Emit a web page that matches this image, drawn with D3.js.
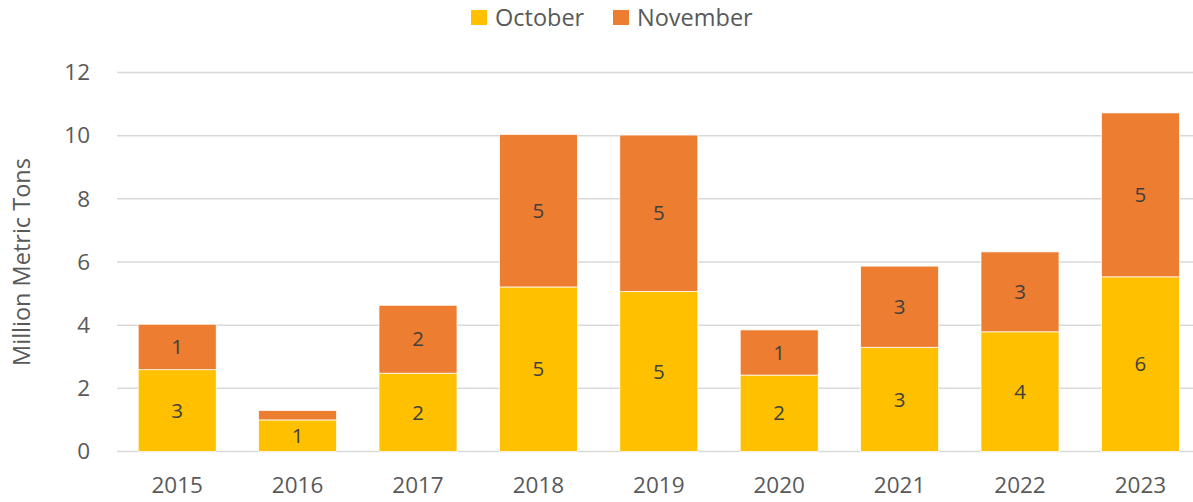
<!DOCTYPE html>
<html>
<head>
<meta charset="utf-8">
<script src="https://cdn.jsdelivr.net/npm/d3@7"></script>
<style>
  body { margin: 0; background: #fff; }
  svg { font-family: "Open Sans", "Liberation Sans", sans-serif; }
</style>
</head>
<body>
<svg width="1193" height="502"></svg>
<script>
// data
const years = ["2015", "2016", "2017", "2018", "2019", "2020", "2021", "2022", "2023"];
const october = [2.59, 1.0, 2.48, 5.21, 5.07, 2.42, 3.30, 3.79, 5.53];
const november = [1.44, 0.30, 2.15, 4.83, 4.95, 1.43, 2.57, 2.53, 5.19];
const seriesNames = ["October", "November"];
const yTicks = [0, 2, 4, 6, 8, 10, 12];

const colors = { October: "#FFC000", November: "#ED7D31" };

const svg = d3.select("svg");
const margin = { top: 72.5, left: 117, bottom: 50.5 },
    plotW = 1083.6,
    plotH = 502 - margin.top - margin.bottom;

const table = years.map((y, i) => ({ year: y, October: october[i], November: november[i] }));
const stacked = d3.stack().keys(seriesNames)(table);

const x = d3.scaleBand().domain(years).range([0, plotW]).paddingInner(0.352).paddingOuter(0.176);
const y = d3.scaleLinear().domain([0, 12]).range([plotH, 0]);

const g = svg.append("g").attr("transform", `translate(${margin.left},${margin.top})`);

// gridlines
g.append("g")
    .selectAll("line")
    .data(yTicks)
    .join("line")
    .attr("x1", 0).attr("x2", plotW)
    .attr("y1", d => y(d)).attr("y2", d => y(d))
    .attr("stroke", "#D9D9D9")
    .attr("stroke-width", 1.5);

// y axis labels
const yAxis = g.append("g")
    .call(d3.axisLeft(y).tickValues(yTicks).tickSize(0).tickPadding(27));
yAxis.select(".domain").remove();
yAxis.selectAll("text").attr("font-size", 22.5).attr("fill", "#595959").attr("font-family", "Open Sans");

// x axis labels
const xAxis = g.append("g")
    .attr("transform", `translate(0,${plotH})`)
    .call(d3.axisBottom(x).tickSize(0).tickPadding(26));
xAxis.select(".domain").remove();
xAxis.selectAll("text").attr("font-size", 22.5).attr("fill", "#595959").attr("font-family", "Open Sans");

// bars
const layers = g.selectAll(".layer")
    .data(stacked)
    .join("g")
    .attr("class", "layer")
    .attr("fill", d => colors[d.key]);

layers.selectAll("rect")
    .data(d => d)
    .join("rect")
    .attr("x", d => x(d.data.year))
    .attr("width", x.bandwidth())
    .attr("y", d => y(d[1]))
    .attr("height", d => y(d[0]) - y(d[1]))
    .attr("stroke", "#fff")
    .attr("stroke-width", 0.75);

// data labels (skip tiny segments)
layers.selectAll("text")
    .data(d => d)
    .join("text")
    .filter(d => y(d[0]) - y(d[1]) > 20)
    .attr("x", d => x(d.data.year) + x.bandwidth() / 2)
    .attr("y", d => (y(d[0]) + y(d[1])) / 2)
    .attr("dy", "0.35em")
    .attr("text-anchor", "middle")
    .attr("font-size", 20.5)
    .attr("fill", "#404040")
    .text(d => Math.round(d[1] - d[0]));

// axis title
svg.append("text")
    .attr("transform", `translate(30,${margin.top + plotH / 2}) rotate(-90)`)
    .attr("text-anchor", "middle")
    .attr("font-size", 23.5)
    .attr("fill", "#595959")
    .text("Million Metric Tons");

// legend
const legend = svg.append("g").attr("transform", "translate(471,10)");
const legendX = [0, 142];
seriesNames.forEach((name, i) => {
    const item = legend.append("g").attr("transform", `translate(${legendX[i]},0)`);
    item.append("rect").attr("width", 16).attr("height", 15).attr("fill", colors[name]);
    item.append("text")
        .attr("x", 24).attr("y", 7.5).attr("dy", "0.35em")
        .attr("font-size", 23.5).attr("fill", "#595959")
        .text(name);
});
</script>
</body>
</html>
